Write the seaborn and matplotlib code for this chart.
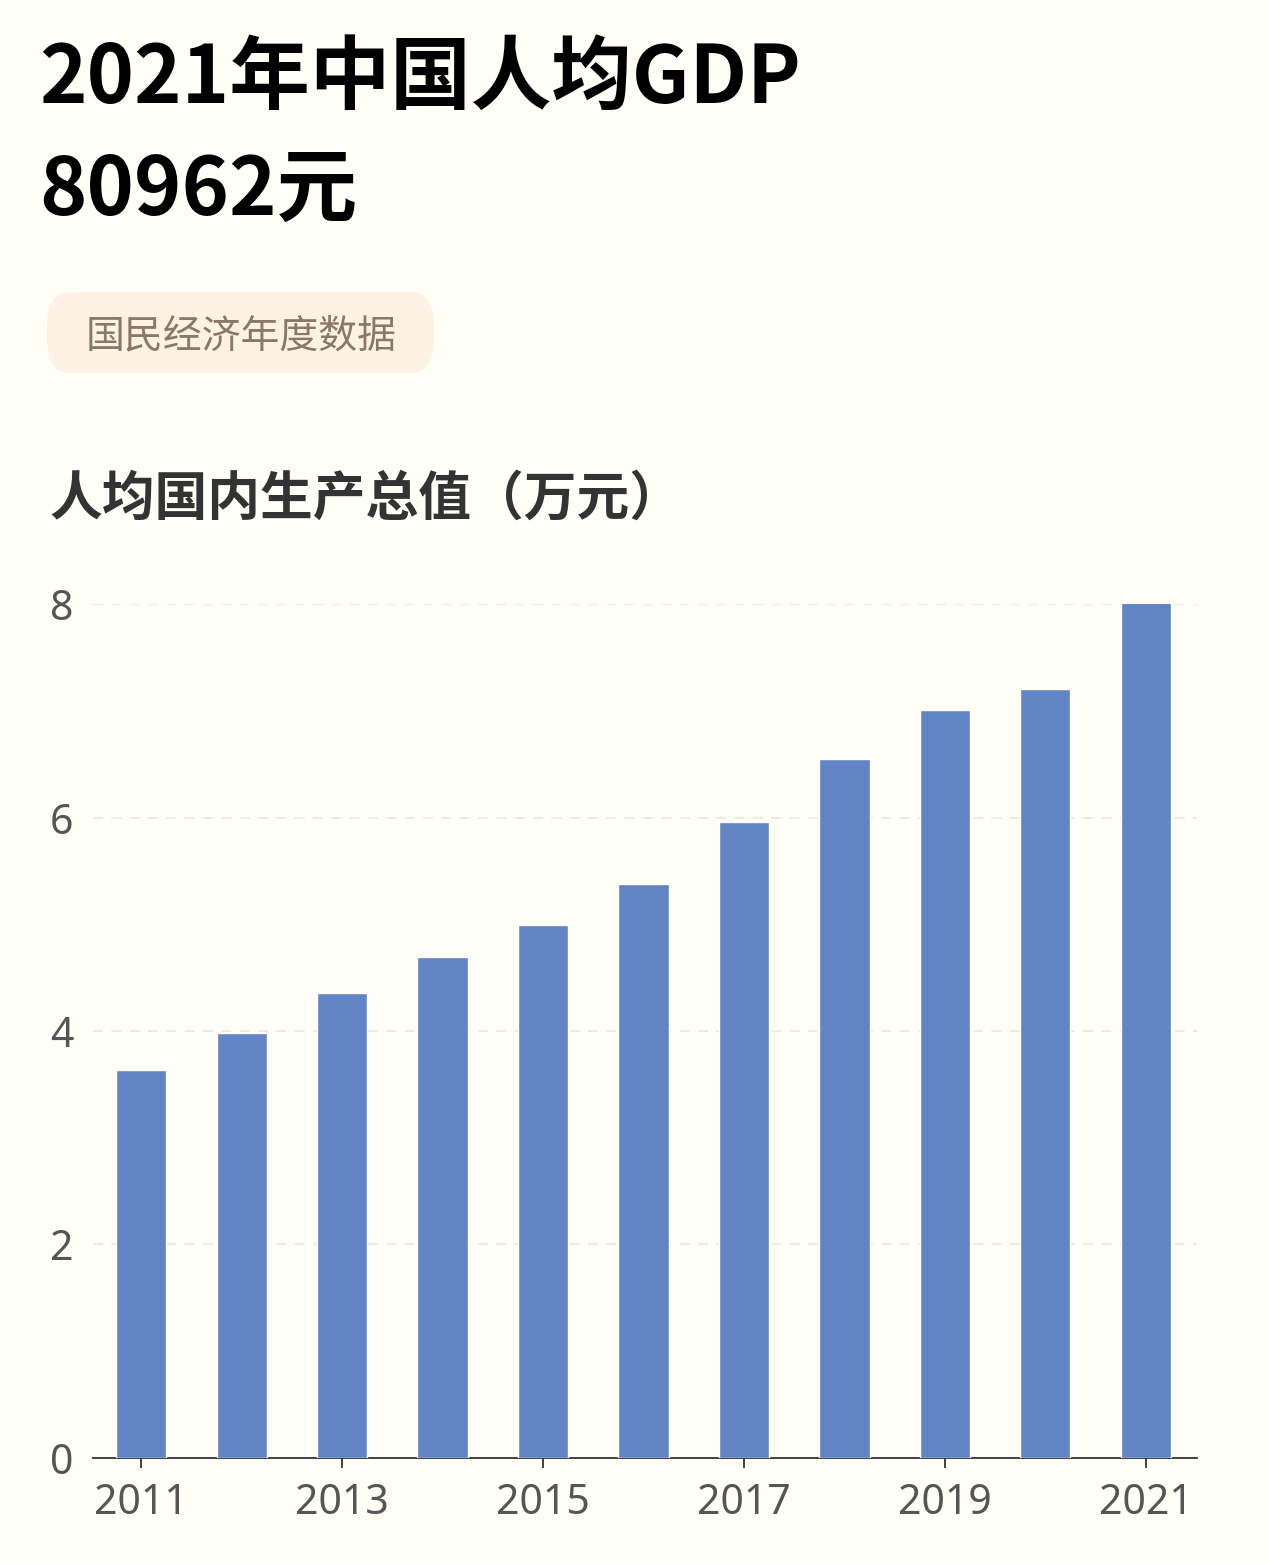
import matplotlib
matplotlib.use('Agg')
import matplotlib.pyplot as plt
from matplotlib.patches import FancyBboxPatch
import pandas as pd
import seaborn as sns

# data (万元)
years = ['2011', '2012', '2013', '2014', '2015', '2016',
         '2017', '2018', '2019', '2020', '2021']
gdp_per_capita = [3.63, 3.98, 4.36, 4.69, 4.99, 5.38,
                  5.96, 6.55, 7.01, 7.20, 8.10]
y_ticks = [0, 2, 4, 6, 8]
x_label_years = ['2011', '2013', '2015', '2017', '2019', '2021']

title_line1 = '2021年中国人均GDP'
title_line2 = '80962元'
tag_text = '国民经济年度数据'
subtitle = '人均国内生产总值（万元）'

bg = '#fffef7'
bar_color = '#6284c4'
latin_first = ['Noto Sans', 'Noto Sans CJK SC', 'DejaVu Sans']

sns.set_theme(style='white')
plt.rcParams['font.family'] = ['Noto Sans CJK SC', 'DejaVu Sans']

df = pd.DataFrame({'year': years, 'value': gdp_per_capita})

fig = plt.figure(figsize=(12.69, 15.64), dpi=100, facecolor=bg)
ax = fig.add_axes([0.0733, 0.0678, 0.8700, 0.5460])
ax.set_facecolor(bg)

sns.barplot(data=df, x='year', y='value', color=bar_color, width=0.5,
            saturation=1, ax=ax, zorder=3)

ax.set_ylim(0, 8)
ax.set_xlim(-0.48, 10.51)
ax.set_yticks(y_ticks)
ax.set_yticklabels([str(t) for t in y_ticks])
tick_pos = [years.index(y) for y in x_label_years]
ax.set_xticks(tick_pos)
ax.set_xticklabels(x_label_years)
ax.set_xlabel('')
ax.set_ylabel('')
for lab in ax.get_xticklabels() + ax.get_yticklabels():
    lab.set_family(latin_first)

for t in y_ticks[1:]:
    ax.axhline(t, color='#e8e8e0', lw=1.2, ls=(0, (6, 5)), zorder=1)

for s in ['top', 'right', 'left']:
    ax.spines[s].set_visible(False)
ax.spines['bottom'].set_color('#333333')
ax.spines['bottom'].set_linewidth(1.3)
ax.tick_params(axis='x', colors='#333333', length=7, width=1.3,
               labelsize=29.5, labelcolor='#555555', pad=10, bottom=True)
ax.tick_params(axis='y', length=0, labelsize=29.5, labelcolor='#555555', pad=14)

# header
fig.text(39 / 1269, 1 - 103 / 1564, title_line1, fontsize=58,
         fontweight='bold', color='#000000', va='baseline', ha='left')
fig.text(39 / 1269, 1 - 215 / 1564, title_line2, fontsize=58,
         fontweight='bold', color='#000000', va='baseline', ha='left')

box = FancyBboxPatch((47 / 1269, 1 - 373 / 1564), 387 / 1269, 81 / 1564,
                     boxstyle='round,pad=0,rounding_size=0.018',
                     transform=fig.transFigure, facecolor='#fdf2e4',
                     edgecolor='none', mutation_aspect=1564 / 1269)
fig.patches.append(box)
fig.text(241 / 1269, 1 - 337 / 1564, tag_text, fontsize=28,
         color='#8b7866', va='center', ha='center')

fig.text(50 / 1269, 1 - 499 / 1564, subtitle, fontsize=38,
         fontweight='bold', color='#333333', va='center', ha='left')

fig.savefig('out.png', dpi=100, facecolor=bg)
